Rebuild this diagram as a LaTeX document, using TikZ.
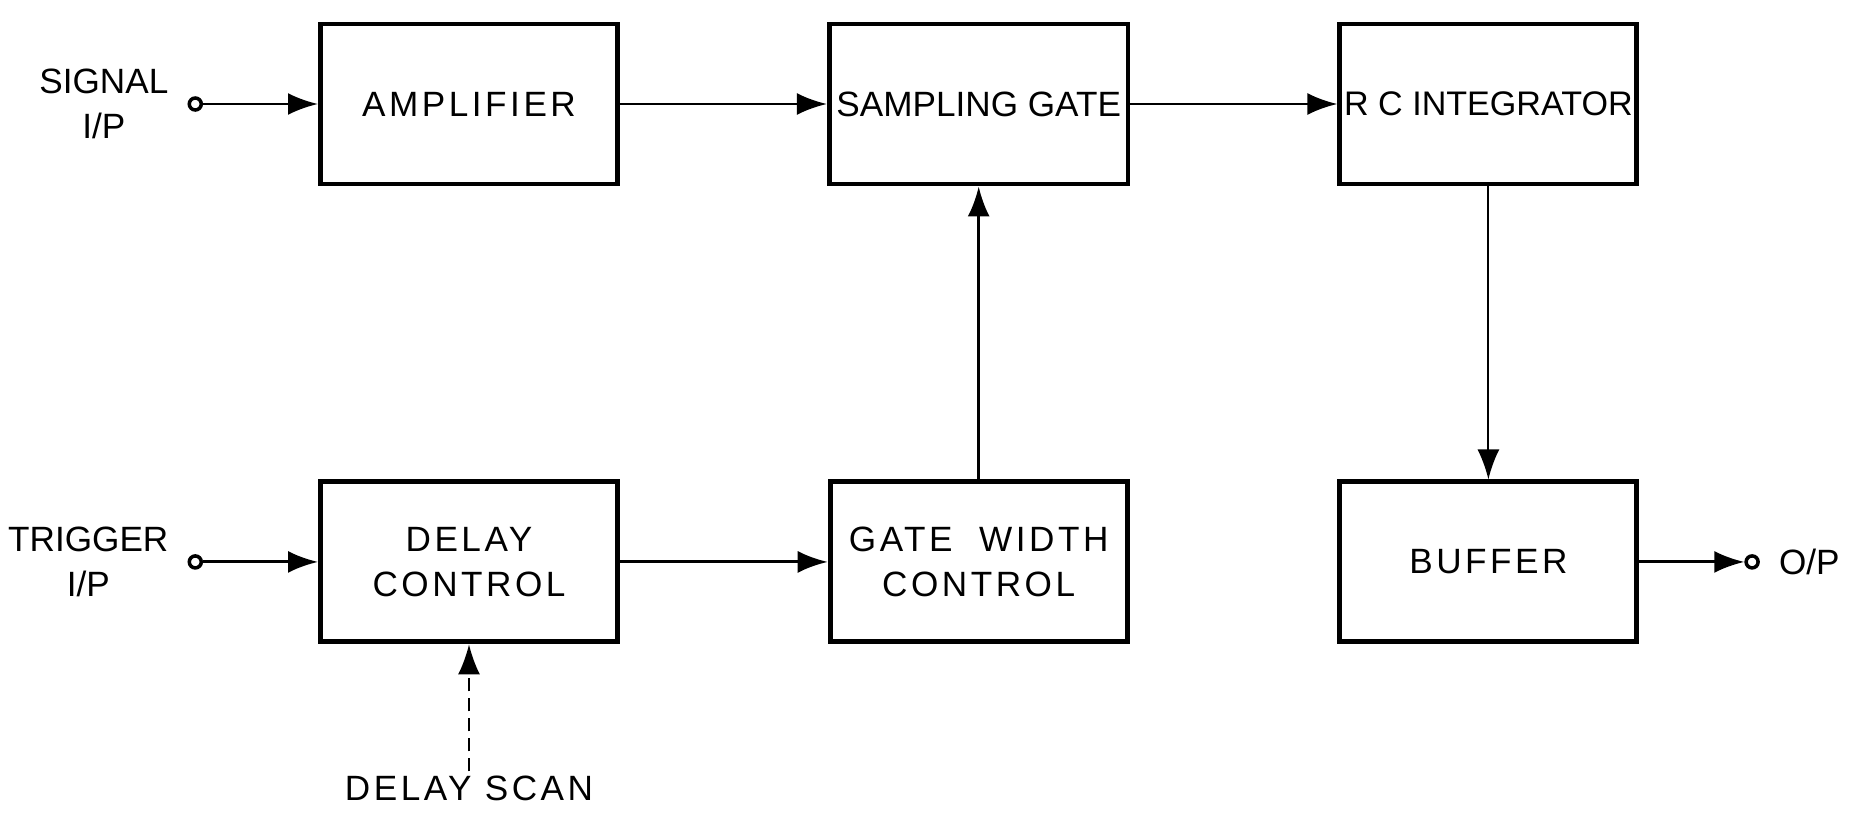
\documentclass[tikz,border=0pt]{standalone}
\usepackage{fontspec}
\setmainfont{Liberation Sans}
\newfontfamily\widefont[LetterSpace=10]{Liberation Sans}
\usepackage{tikz}
\usetikzlibrary{arrows.meta,positioning}

\begin{document}
\begin{tikzpicture}[
  font=\fontsize{10}{13}\selectfont,
  blk/.style={draw, line width=1.4pt, minimum width=2.97cm, minimum height=1.6cm, inner sep=2pt, align=center},
  wide/.style={font=\fontsize{10}{13}\selectfont\widefont},
  term/.style={draw, circle, line width=1pt, minimum size=1.2mm, inner sep=0pt},
  lbl/.style={inner sep=1pt, align=center},
  arr/.style={-{Latex[length=3mm, width=2.2mm]}, line width=0.85pt},
]
\useasboundingbox (0,0) rectangle (18.56,8.19);
% top row: signal path
\node[blk, wide] (amp) at (4.69,7.15) {AMPLIFIER};
\node[blk, right=2.07cm of amp] (gate) {SAMPLING GATE};
\node[blk, inner sep=0pt, font=\fontsize{9.7}{13}\selectfont, right=2.07cm of gate] (rc) {R C INTEGRATOR};
% bottom row: timing and output
\node[blk, wide, below=2.93cm of amp] (delay) {DELAY\\CONTROL};
\node[blk, wide, below=2.93cm of gate] (width) {GATE\ \ WIDTH\\CONTROL};
\node[blk, wide, below=2.93cm of rc] (buf) {BUFFER};

\node[term, left=1.15cm of amp] (sigin) {};
\node[term, left=1.15cm of delay] (trigin) {};
\node[term, right=1.05cm of buf] (out) {};
\node[lbl, left=1.5mm of sigin] (siglbl) {SIGNAL\\I/P};
\node[lbl, left=1.5mm of trigin] (triglbl) {TRIGGER\\I/P};
\node[lbl, right=1.5mm of out] (outlbl) {O/P};
\node[lbl, wide, below=1.27cm of delay] (scan) {DELAY SCAN};

\draw[arr] (sigin) -- (amp);
\draw[arr] (amp) -- (gate);
\draw[arr] (gate) -- (rc);
\draw[arr] (trigin) -- (delay);
\draw[arr] (delay) -- (width);
\draw[arr] (width) -- (gate);
\draw[arr, line width=0.6pt] (rc) -- (buf);
\draw[arr] (buf) -- (out);
\draw[arr, line width=0.6pt, dash pattern=on 1.3mm off 0.7mm] (scan) -- (delay);
\end{tikzpicture}
\end{document}
